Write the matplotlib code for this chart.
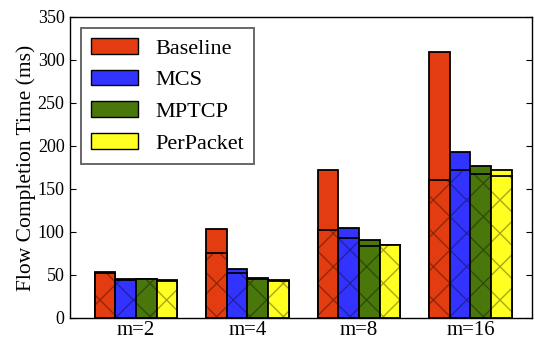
import matplotlib
matplotlib.use("Agg")
import matplotlib.pyplot as plt
from matplotlib.patches import Patch
import numpy as np

plt.rcParams["font.family"] = ["Liberation Serif", "DejaVu Serif"]
plt.rcParams["hatch.linewidth"] = 1.0

groups = ["m=2", "m=4", "m=8", "m=16"]
series = ["Baseline", "MCS", "MPTCP", "PerPacket"]
colors = ["#e33c10", "#3333ff", "#4a770b", "#ffff22"]

# hatched (lower) part and full bar height, ms
lower = {
    "Baseline":  [52, 76, 102, 160],
    "MCS":       [44, 52, 93, 172],
    "MPTCP":     [45, 45, 84, 167],
    "PerPacket": [43, 43, 85, 165],
}
total = {
    "Baseline":  [53, 103, 172, 309],
    "MCS":       [45, 57, 105, 193],
    "MPTCP":     [45, 46, 91, 177],
    "PerPacket": [44, 44, 85, 172],
}

fig = plt.figure(figsize=(5.35, 3.39), dpi=100)
ax = fig.add_axes([0.131, 0.062, 0.863, 0.888])

x = np.arange(len(groups))
w = 0.185
for i, (s, c) in enumerate(zip(series, colors)):
    xi = x + (i - 1.5) * w
    lo = np.array(lower[s]); tot = np.array(total[s])
    # full bar, then the hatched lower part on top of it
    ax.bar(xi, tot, w, color=c, edgecolor="black", linewidth=1.3, zorder=2)
    ax.bar(xi, lo, w, color=c, edgecolor="black", linewidth=1.3, zorder=3)
    ax.bar(xi, lo, w, color="none", edgecolor=(0, 0, 0, 0.35), hatch="x",
           linewidth=0, zorder=4)

ax.set_xlim(-0.59, 3.55)
ax.set_ylim(0, 350)
ax.set_yticks(range(0, 351, 50))
ax.set_xticks(x)
ax.set_xticklabels(groups, fontsize=15)
ax.tick_params(axis="x", length=0, pad=2)
ax.tick_params(axis="y", direction="in", right=True, length=4, labelsize=13, pad=4)
ax.set_ylabel("Flow Completion Time (ms)", fontsize=15.5, labelpad=1)
for sp in ax.spines.values():
    sp.set_linewidth(1.0)

handles = [Patch(facecolor=c, edgecolor="black", linewidth=1.0) for c in colors]
leg = ax.legend(handles, series, loc="upper left", fontsize=16, handlelength=2.1,
                handleheight=0.7, handletextpad=0.8, labelspacing=0.5,
                borderpad=0.45, borderaxespad=0, fancybox=False,
                bbox_to_anchor=(0.024, 0.963))
leg.get_frame().set_edgecolor("#333333")
leg.get_frame().set_linewidth(1.3)

fig.savefig("out.png", dpi=100)
